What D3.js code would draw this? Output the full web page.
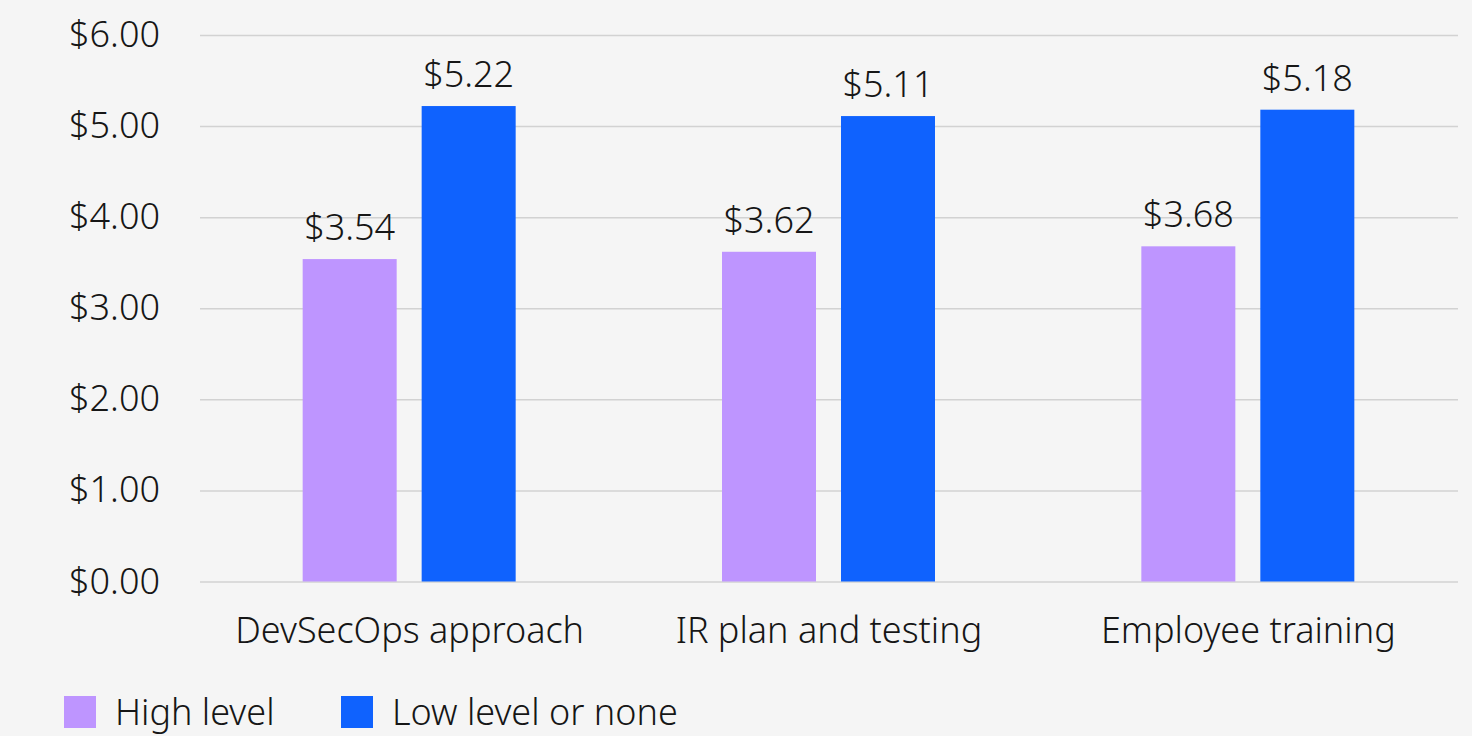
<!DOCTYPE html>
<html>
<head>
<meta charset="utf-8">
<script src="https://cdn.jsdelivr.net/npm/d3@7"></script>
<style>
  html, body { margin: 0; padding: 0; background: #f5f5f5; }
  svg { display: block; }
</style>
</head>
<body>
<div id="chart"></div>
<script>
// Data
const categories = ["DevSecOps approach", "IR plan and testing", "Employee training"];
const seriesNames = ["High level", "Low level or none"];
const highLevel = [3.54, 3.62, 3.68];
const lowLevel = [5.22, 5.11, 5.18];
const yTicks = [0, 1, 2, 3, 4, 5, 6];
const colors = ["#be95ff", "#0f62fe"];

const W = 1472, H = 736;
const FONT = "'Noto Sans', 'Open Sans', sans-serif";
const FS = 36;
const FW = 300;
const margin = { top: 35, right: 14, bottom: 155, left: 200 };

const svg = d3.select("#chart").append("svg")
  .attr("width", W).attr("height", H);

svg.append("rect").attr("width", W).attr("height", H).attr("fill", "#f5f5f5");

const y = d3.scaleLinear().domain([0, 6]).range([H - margin.bottom + 0.5, margin.top]);
const x0 = d3.scaleBand().domain(categories).range([margin.left, W - margin.right]).padding(0);
const x1 = d3.scaleBand().domain(seriesNames)
  .range([x0.bandwidth() / 2 - 107, x0.bandwidth() / 2 + 106])
  .paddingInner(0.21).paddingOuter(0);

// Grid lines + y labels
const yAxis = svg.append("g")
  .attr("transform", `translate(${margin.left},0)`)
  .call(d3.axisLeft(y).tickValues(yTicks).tickSize(-(W - margin.left - margin.right))
    .tickFormat(d => "$" + d3.format(".2f")(d)).tickPadding(40));
yAxis.select(".domain").remove();
yAxis.selectAll(".tick line").attr("stroke", "#d2d2d2").attr("stroke-width", 1.5);
yAxis.selectAll(".tick text")
  .attr("fill", "#161616").attr("font-size", FS).attr("font-weight", FW).attr("font-family", FONT);

// Bars
const rows = categories.map((c, i) => ({ cat: c, vals: [highLevel[i], lowLevel[i]] }));
const groups = svg.selectAll(".grp").data(rows).enter().append("g")
  .attr("transform", d => `translate(${x0(d.cat)},0)`);

groups.selectAll("rect")
  .data(d => d.vals.map((v, j) => ({ key: seriesNames[j], v, j })))
  .enter().append("rect")
  .attr("x", d => x1(d.key))
  .attr("width", x1.bandwidth())
  .attr("y", d => y(d.v))
  .attr("height", d => y(0) - y(d.v))
  .attr("fill", d => colors[d.j]);

groups.selectAll(".val")
  .data(d => d.vals.map((v, j) => ({ key: seriesNames[j], v, j })))
  .enter().append("text")
  .attr("x", d => x1(d.key) + x1.bandwidth() / 2)
  .attr("y", d => y(d.v) - 19)
  .attr("text-anchor", "middle")
  .attr("fill", "#161616").attr("font-size", FS).attr("font-weight", FW).attr("font-family", FONT)
  .text(d => "$" + d3.format(".2f")(d.v));

// Category labels
svg.selectAll(".cat").data(categories).enter().append("text")
  .attr("x", d => x0(d) + x0.bandwidth() / 2)
  .attr("y", 643)
  .attr("text-anchor", "middle")
  .attr("fill", "#161616").attr("font-size", FS).attr("font-weight", FW).attr("font-family", FONT)
  .text(d => d);

// Legend
const legendX = [64, 341];
const leg = svg.selectAll(".leg").data(seriesNames).enter().append("g")
  .attr("transform", (d, i) => `translate(${legendX[i]},696)`);
leg.append("rect").attr("width", 32).attr("height", 32).attr("fill", (d, i) => colors[i]);
leg.append("text").attr("x", 51).attr("y", 29)
  .attr("fill", "#161616").attr("font-size", FS).attr("font-weight", FW).attr("font-family", FONT)
  .text(d => d);
</script>
</body>
</html>
